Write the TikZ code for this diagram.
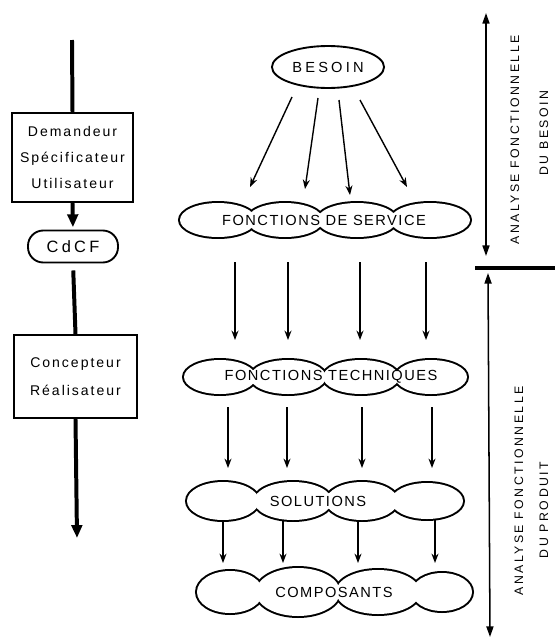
\documentclass[tikz,border=0pt]{standalone}
\usepackage{fontspec}
\setmainfont{Liberation Sans}
\usetikzlibrary{arrows.meta,shapes.geometric}
\newcommand\pxu{0.03cm}
% one row of overlapping lobes, only the outer outline stays visible
\newcommand\cloudrow[2]{%
  \foreach \cx/\rx/\ry in {#2} \draw[lobe] (\cx,#1) ellipse [x radius=\rx, y radius=\ry];
  \foreach \cx/\rx/\ry in {#2} \fill[white] (\cx,#1) ellipse [x radius=\rx, y radius=\ry];
}
\tikzset{
  thickarr/.style={line width=3.4pt,-{Triangle[length=11pt,width=9pt]}},
  thinarr/.style={line width=1.2pt,-{Stealth[length=8pt,width=6pt]}},
  boxnode/.style={draw,line width=1.6pt,align=center,inner sep=0pt,
    font={\fontsize{12}{22}\selectfont\addfontfeature{LetterSpace=14}}},
  lobe/.style={line width=3.4pt},
  lbl/.style={font={\fontsize{12.5}{15}\selectfont\addfontfeature{LetterSpace=10}}},
  side/.style={rotate=90,inner sep=1pt,font={\fontsize{10.5}{12}\selectfont\addfontfeature{LetterSpace=20}}},
}

\begin{document}
\begin{tikzpicture}[x=0.03cm,y=-0.03cm]
    \useasboundingbox (0,0) rectangle (555,639);

    % left column
    \node[boxnode,minimum width={121*\pxu},minimum height={89*\pxu}] (dem) at (72.5,157.5)
        {Demandeur\\Spécificateur\\Utilisateur};
    \node[draw,line width=1.6pt,rounded corners=13pt,minimum width={90*\pxu},minimum height={32*\pxu},
        font={\fontsize{14}{16}\selectfont\addfontfeature{LetterSpace=20}}] (cdcf) at (73,246.5) {CdCF};
    \node[boxnode,font={\fontsize{12}{24}\selectfont\addfontfeature{LetterSpace=14}},
        minimum width={123*\pxu},minimum height={83*\pxu}] (con) at (75.5,376.5)
        {Concepteur\\Réalisateur};

    \coordinate (ltop) at (72,40);
    \coordinate (lbot) at (77,538);
    \draw[line width=3.4pt] (ltop) -- (dem.north);
    \draw[thickarr,shorten >=2pt] (dem.south) -- (cdcf.north);
    \draw[line width=3.4pt,shorten <=6pt] (cdcf.south) -- (con.north);
    \draw[thickarr] (con.south) -- (lbot);

    % clouds
    \cloudrow{220}{218/38/17, 285/38/17, 357/40/17, 430/40/17}
    \cloudrow{377}{220/36/17, 288/38/17, 361/38/17, 431/36/17}
    \cloudrow{501}{223/36/19, 293/39/19, 362/36/19, 427/36/18}
    \cloudrow{592}{230/33/21, 298/42/24, 378/42/22, 442/30/19}

    \node[draw,ellipse,line width=1.6pt,minimum width={110*\pxu},minimum height={42*\pxu},
        font={\fontsize{12.5}{15}\selectfont\addfontfeature{LetterSpace=22}}] (besoin) at (328,67) {BESOIN};
    \node[lbl] (serv) at (324,220) {FONCTIONS DE SERVICE};
    \node[lbl] (tech) at (331,377) {FONCTIONS TECHNIQUES};
    \node[lbl] (sol) at (318,501) {SOLUTIONS};
    \node[lbl] (comp) at (334,592) {COMPOSANTS};

    % arrows between the rows
    \foreach \xa/\ya/\xb/\yb [count=\i] in {292/97/250/187, 318/98/305/189, 339/100/350/195, 360/100/407/187}{
        \coordinate (fa\i) at (\xa,\ya);
        \coordinate (fb\i) at (\xb,\yb);
        \draw[thinarr] (fa\i) -- (fb\i);
    }
    \foreach \x/\ya/\yb [count=\i] in {235/262/340, 288/262/340, 360/262/340, 426/262/340,
                                        228/407/468, 287/407/468, 362/407/468, 432/407/468,
                                        223/520/563, 283/520/563, 358/520/563, 435/520/563}{
        \coordinate (va\i) at (\x,\ya);
        \coordinate (vb\i) at (\x,\yb);
        \draw[thinarr] (va\i) -- (vb\i);
    }

    % right side
    \coordinate (ra) at (486,13);
    \coordinate (rb) at (486,256);
    \coordinate (rc) at (488,273);
    \coordinate (rd) at (490,637);
    \coordinate (sa) at (475,268);
    \coordinate (sb) at (555,268);
    \draw[line width=1.3pt,{Triangle[length=9pt,width=6pt]}-{Triangle[length=9pt,width=6pt]}] (ra) -- (rb);
    \draw[line width=1.3pt,{Triangle[length=9pt,width=6pt]}-{Triangle[length=9pt,width=6pt]}] (rc) -- (rd);
    \draw[line width=2.6pt] (sa) -- (sb);

    \node[side] (afb) at (515,140) {ANALYSE FONCTIONNELLE};
    \node[side] (dub) at (544,133) {DU BESOIN};
    \node[side] (afp) at (519,491) {ANALYSE FONCTIONNELLE};
    \node[side] (dup) at (544,510) {DU PRODUIT};
\end{tikzpicture}
\end{document}
